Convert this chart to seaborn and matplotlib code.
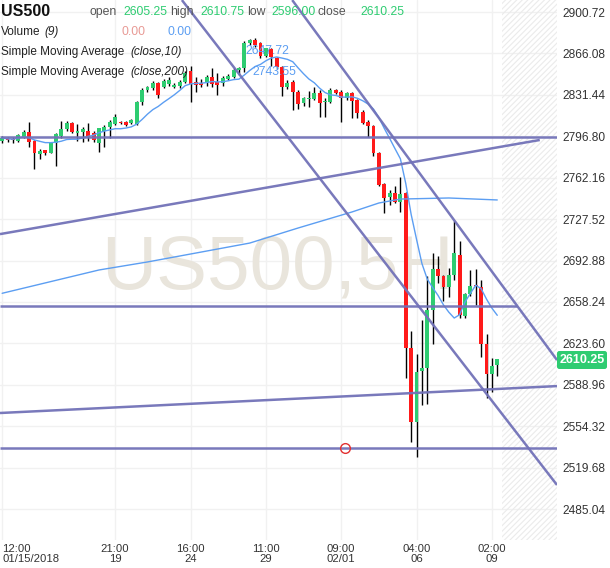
import numpy as np
import pandas as pd
import matplotlib
matplotlib.use("Agg")
import matplotlib.pyplot as plt
import seaborn as sns
from matplotlib.patches import FancyBboxPatch

sns.set_style("white")
plt.rcParams['font.family'] = ['Liberation Sans', 'DejaVu Sans']
plt.rcParams['hatch.linewidth'] = 0.8

# ---------------- data ----------------
opens = [2792.8, 2795.3, 2794.9, 2792.8, 2796.2, 2800.4, 2792.8, 2781.9, 2785.3, 2782.8,
         2791.2, 2797.0, 2802.9, 2807.9, 2799.9, 2800.4, 2801.2, 2799.5, 2791.2, 2801.2,
         2804.6, 2807.1, 2808.7, 2808.7, 2807.9, 2806.8, 2825.5, 2835.5, 2836.9, 2841.4,
         2838.3, 2840.5, 2838.0, 2838.8, 2842.4, 2851.4, 2842.4, 2841.6, 2841.6, 2846.6,
         2842.4, 2841.1, 2844.7, 2846.4, 2852.2, 2853.6, 2874.6, 2877.3, 2874.6, 2864.3,
         2869.8, 2862.3, 2854.5, 2837.7, 2842.2, 2834.1, 2824.9, 2828.0, 2828.0, 2833.3,
         2825.5, 2825.7, 2835.5, 2833.6, 2828.6, 2832.7, 2827.1, 2817.3, 2809.0, 2805.6,
         2782.5, 2756.9, 2745.8, 2749.1, 2741.6, 2749.1, 2619.5, 2558.1, 2600.5, 2602.8,
         2651.5, 2685.5, 2679.9, 2670.5, 2680.8, 2697.5, 2646.5, 2664.6, 2671.6, 2671.0,
         2623.1, 2598.0, 2605.25]
closes = [2795.3, 2794.1, 2793.7, 2797.9, 2800.4, 2792.0, 2782.8, 2784.5, 2782.8, 2791.2,
          2798.7, 2802.9, 2807.9, 2800.4, 2800.4, 2802.9, 2796.2, 2793.7, 2803.7, 2804.6,
          2808.7, 2812.9, 2807.5, 2806.2, 2810.4, 2825.5, 2835.5, 2838.0, 2841.6, 2831.3,
          2843.3, 2843.8, 2839.7, 2842.4, 2850.0, 2840.5, 2839.7, 2839.7, 2846.6, 2840.3,
          2839.7, 2845.8, 2847.2, 2852.2, 2854.1, 2875.1, 2877.3, 2873.1, 2864.3, 2870.4,
          2862.8, 2854.7, 2838.0, 2841.6, 2834.1, 2823.4, 2828.6, 2828.8, 2833.0, 2824.9,
          2826.5, 2835.5, 2833.0, 2828.6, 2832.7, 2826.5, 2816.5, 2807.9, 2805.4, 2782.5,
          2756.0, 2745.4, 2749.1, 2742.1, 2748.3, 2619.5, 2558.1, 2600.0, 2602.8, 2651.5,
          2685.5, 2679.9, 2670.5, 2680.8, 2699.4, 2647.3, 2664.6, 2671.6, 2671.2, 2623.1,
          2598.0, 2604.7, 2610.25]
highs = [2797.0, 2796.2, 2796.2, 2798.7, 2802.0, 2808.7, 2793.7, 2786.4, 2785.3, 2792.0,
         2799.5, 2809.6, 2809.6, 2808.7, 2807.1, 2804.5, 2807.9, 2801.5, 2803.7, 2806.2,
         2810.4, 2815.4, 2809.6, 2809.6, 2811.2, 2826.3, 2837.2, 2838.8, 2843.0, 2842.2,
         2844.7, 2846.4, 2841.4, 2843.8, 2851.4, 2855.6, 2846.4, 2844.7, 2848.0, 2853.9,
         2849.7, 2847.2, 2848.9, 2853.9, 2854.7, 2876.5, 2878.1, 2879.0, 2875.6, 2871.0,
         2870.6, 2863.1, 2855.6, 2843.8, 2843.8, 2835.5, 2829.6, 2834.9, 2838.0, 2835.5,
         2828.8, 2837.2, 2836.3, 2835.5, 2833.8, 2833.8, 2828.0, 2818.8, 2810.4, 2806.2,
         2783.6, 2757.7, 2751.9, 2755.2, 2762.7, 2750.2, 2633.9, 2614.7, 2643.1, 2679.9,
         2699.4, 2696.7, 2680.8, 2686.6, 2726.2, 2709.5, 2665.7, 2685.0, 2685.8, 2676.6,
         2631.4, 2611.4, 2610.75]
lows = [2791.2, 2792.0, 2791.2, 2792.0, 2795.3, 2787.8, 2769.4, 2777.8, 2781.1, 2782.8,
        2771.9, 2795.3, 2801.2, 2799.5, 2793.1, 2792.0, 2792.8, 2792.3, 2783.9, 2788.1,
        2795.3, 2806.2, 2807.1, 2805.4, 2807.1, 2806.2, 2822.9, 2833.8, 2835.5, 2828.8,
        2837.2, 2838.8, 2837.2, 2837.2, 2841.4, 2825.7, 2833.8, 2838.0, 2838.8, 2838.3,
        2831.3, 2838.8, 2843.8, 2845.5, 2848.0, 2850.5, 2873.1, 2871.5, 2862.3, 2863.1,
        2855.6, 2853.0, 2830.5, 2836.3, 2818.8, 2819.6, 2822.1, 2821.5, 2827.1, 2812.9,
        2812.9, 2824.6, 2832.1, 2809.0, 2827.1, 2812.1, 2812.1, 2807.1, 2796.4, 2780.3,
        2755.2, 2732.6, 2739.3, 2741.0, 2733.7, 2594.6, 2541.4, 2528.6, 2572.1, 2572.9,
        2623.1, 2674.1, 2659.3, 2662.6, 2676.6, 2644.6, 2644.8, 2663.2, 2655.7, 2612.2,
        2577.9, 2582.9, 2596.00]

# SMA(close,200) at some bars
sma200_idx = [0, 18, 27, 37, 46, 55, 65, 70, 74, 83, 92]
sma200_val = [2665.5, 2685.0, 2691.7, 2700.0, 2707.5, 2720.1, 2733.5, 2741.0, 2744.3, 2745.2, 2743.55]

# trend lines: (x0 bar, price0, x1 bar, price1)
trend_lines = [
    (-0.4, 2796.3, 103.1, 2796.3),
    (-0.4, 2654.9, 95.6, 2654.9),
    (-0.4, 2536.1, 103.1, 2536.1),
    (-0.4, 2715.0, 99.9, 2793.7),
    (-0.4, 2565.4, 103.1, 2587.9),
    (33.4, 2910.7, 103.1, 2505.2),
    (53.9, 2910.7, 103.1, 2609.7),
]
circle_pt = (63.7, 2536.1)

y_ticks = [2900.72, 2866.08, 2831.44, 2796.80, 2762.16, 2727.52, 2692.88,
           2658.24, 2623.60, 2588.96, 2554.32, 2519.68, 2485.04]
x_tick_idx = [0, 21, 35, 49, 63, 77, 91]
x_tick_lbl = ["12:00\n01/15/2018", "21:00\n19", "16:00\n24", "11:00\n29",
              "09:00\n02/01", "04:00\n06", "02:00\n09"]

header_ohlc = ["2605.25", "2610.75", "2596.00", "2610.25"]
sma10_label = "2647.72"
sma200_label = "2743.55"
last_price = "2610.25"

# ---------------- figure ----------------
GREEN = "#2ecc71"
RED = "#ff1a1a"
LINE = "#7272b8"
BLUE = "#5c9ef2"

fig = plt.figure(figsize=(6.10, 5.68), dpi=100)
ax = fig.add_axes([0, 28 / 568, 557 / 610, 540 / 568])
ax.set_xlim(-0.4, 103.1)
ax.set_ylim(2459.2, 2910.76)

df = pd.DataFrame({"i": np.arange(len(closes)), "open": opens, "close": closes,
                   "high": highs, "low": lows})
df["sma10"] = df["close"].rolling(10, min_periods=1).mean()

# grid
for yv in y_ticks:
    ax.axhline(yv, color="#f1f1f1", lw=1, zorder=0)
for xv in x_tick_idx:
    ax.axvline(xv, color="#f1f1f1", lw=1, zorder=0)

# future hatched area
ax.axvspan(92.85, 103.1, facecolor="none", edgecolor="#ebebeb", hatch="//////", lw=0, zorder=0)

# watermark
ax.text(277 / 557, 1 - 270 / 540, "US500,5H", transform=ax.transAxes, fontsize=55,
        color="#e9e5dc", ha="center", va="center", zorder=0.5)

# candles
up = df["close"] >= df["open"]
ax.vlines(df["i"], df["low"], df["high"], color="black", lw=1, zorder=2)
body_bottom = np.minimum(df["open"], df["close"])
body_h = np.maximum(np.abs(df["close"] - df["open"]), 0.9)
ax.bar(df["i"], body_h, bottom=body_bottom, width=0.72,
       color=np.where(up, GREEN, RED), linewidth=0, zorder=3)

# moving averages
sns.lineplot(x=df["i"], y=df["sma10"], ax=ax, color=BLUE, lw=1, zorder=4)
sns.lineplot(x=sma200_idx, y=sma200_val, ax=ax, color=BLUE, lw=1, zorder=4)

# trend lines
for x0, y0, x1, y1 in trend_lines:
    ax.plot([x0, x1], [y0, y1], color=LINE, lw=1.8, alpha=0.95, zorder=5,
            solid_capstyle="butt")
ax.plot([circle_pt[0]], [circle_pt[1]], marker="o", ms=7, mfc="none", mec="#e23030",
        mew=1, zorder=6)

# axes styling
for s in ax.spines.values():
    s.set_visible(False)
ax.set_xlabel("")
ax.set_ylabel("")
ax.yaxis.tick_right()
ax.set_yticks(y_ticks)
ax.set_yticklabels([f"{v:.2f}" for v in y_ticks])
ax.tick_params(axis="y", length=0, pad=4, labelsize=8.6, labelcolor="#333333")
ax.set_xticks(x_tick_idx)
ax.set_xticklabels(x_tick_lbl, linespacing=0.95)
ax.tick_params(axis="x", length=0, pad=3, labelsize=8.1, labelcolor="#333333")
ax.get_xticklabels()[0].set_ha("left")

# last price badge
W, H = 610, 568
def fx(px):
    return px / W
def fy(py):
    return 1 - py / H
badge = FancyBboxPatch((fx(557), fy(369)), 50 / W, 18 / H,
                       boxstyle="round,pad=0,rounding_size=0.004",
                       transform=fig.transFigure, facecolor=GREEN, edgecolor="none")
fig.patches.append(badge)
fig.text(fx(582), fy(360), last_price, color="white", fontsize=9, fontweight="bold",
         ha="center", va="center")

# header
fig.text(fx(1), fy(11), "US500", fontsize=11.5, fontweight="bold", color="#111111",
         va="center", ha="left")
hdr = [("open", 90, "#555555"), (header_ohlc[0], 123, GREEN), ("high", 170, "#555555"),
       (header_ohlc[1], 200, GREEN), ("low", 247, "#555555"), (header_ohlc[2], 271, GREEN),
       ("close", 318, "#555555"), (header_ohlc[3], 360, GREEN)]
for t, x, c in hdr:
    fig.text(fx(x), fy(12), t, fontsize=8.8, color=c, va="center", ha="left")

fs = 8.5
fig.text(fx(1), fy(32), "Volume", fontsize=fs, color="#222222", va="center")
fig.text(fx(44), fy(32), "(9)", fontsize=fs, color="#222222", va="center", style="italic")
fig.text(fx(122), fy(32), "0.00", fontsize=8.8, color="#e89a95", va="center")
fig.text(fx(167), fy(32), "0.00", fontsize=8.8, color=BLUE, va="center")

fig.text(fx(1), fy(52), "Simple Moving Average", fontsize=fs, color="#222222", va="center")
fig.text(fx(130), fy(52), "(close,10)", fontsize=fs, color="#222222", va="center",
         style="italic")
fig.text(fx(245), fy(51), sma10_label, fontsize=8.8, color=BLUE, va="center")
fig.text(fx(1), fy(72), "Simple Moving Average", fontsize=fs, color="#222222", va="center")
fig.text(fx(130), fy(72), "(close,200)", fontsize=fs, color="#222222", va="center",
         style="italic")
fig.text(fx(252), fy(72), sma200_label, fontsize=8.8, color=BLUE, va="center")

fig.savefig("out.png", dpi=100)
